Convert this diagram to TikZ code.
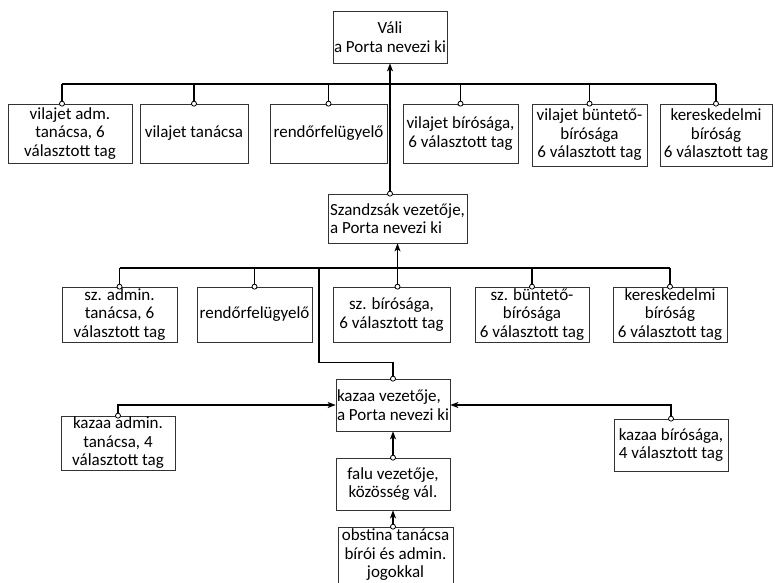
\documentclass[tikz,border=0pt]{standalone}
\usepackage{fontspec}
\setmainfont{Carlito}
\usetikzlibrary{arrows.meta}

\begin{document}
\begin{tikzpicture}[x=1pt, y=-1pt,
	box/.style={draw=black!80, line width=0.7pt, inner sep=0pt, align=center,
		font=\fontsize{17}{18.5}\selectfont},
	wire/.style={line width=1.2pt},
	link/.style={wire, -{Stealth[length=8pt, width=6pt, inset=2pt]}},
	pin/.style={draw=black, line width=0.8pt, fill=white}]
	
	\useasboundingbox (0,0) rectangle (775,582);
	
		% vilajet szint
		\node[box, minimum width=114, minimum height=52] (vali) at (390,37) {Váli\\a Porta nevezi ki};
		\node[box, minimum width=124, minimum height=59] (vadm) at (70,133.5) {vilajet adm.\\tanácsa, 6\\választott tag};
		\node[box, minimum width=108, minimum height=59] (vtan) at (194,133.5) {vilajet tanácsa};
		\node[box, minimum width=117, minimum height=59] (vrend) at (328.5,133.5) {rendőrfelügyelő};
		\node[box, minimum width=115, minimum height=59] (vbir) at (460.5,133.5) {vilajet bírósága,\\6 választott tag};
		\node[box, minimum width=115, minimum height=62] (vbunt) at (589.5,135) {vilajet büntető-\\bírósága\\6 választott tag};
		\node[box, minimum width=112, minimum height=62] (vker) at (716,135) {kereskedelmi\\bíróság\\6 választott tag};
		
		% szandzsák szint
		\node[box, align=left, minimum width=139, minimum height=49] (szan) at (397.5,218.5) {Szandzsák vezetője,\\a Porta nevezi ki};
		\node[box, minimum width=115, minimum height=55] (sadm) at (119.5,314.5) {sz. admin.\\tanácsa, 6\\választott tag};
		\node[box, minimum width=115, minimum height=55] (srend) at (254.5,314.5) {rendőrfelügyelő};
		\node[box, minimum width=117, minimum height=55] (sbir) at (391.5,314.5) {sz. bírósága,\\6 választott tag};
		\node[box, minimum width=114, minimum height=55] (sbunt) at (532,314.5) {sz. büntető-\\bírósága\\6 választott tag};
		\node[box, minimum width=114, minimum height=55] (sker) at (670,314.5) {kereskedelmi\\bíróság\\6 választott tag};
		
		% kazaa szint
		\node[box, align=left, minimum width=114, minimum height=52] (kaza) at (393,405) {kazaa vezetője,\\a Porta nevezi ki};
		\node[box, minimum width=114, minimum height=54] (kadm) at (118,443) {kazaa admin.\\tanácsa, 4\\választott tag};
		\node[box, minimum width=114, minimum height=52] (kbir) at (671,445) {kazaa bírósága,\\4 választott tag};
		\node[box, minimum width=114, minimum height=52] (falu) at (393,484) {falu vezetője,\\közösség vál.};
		\node[box, minimum width=115, minimum height=56] (obst) at (395.5,555) {obstina tanácsa\\bírói és admin.\\jogokkal};
		
		% sínek
		\coordinate (bar1) at (0,84);
		\coordinate (bar2) at (0,268);
		\coordinate (p1) at ([xshift=-8pt]vadm.north);
		\coordinate (p2) at (szan.south |- sbir.north);
		\coordinate (p3) at (vali.south |- szan.north);
		\coordinate (k1) at (319,268);
		
		\draw[wire] (p1 |- bar1) -- (vker.north |- bar1);
		\draw[wire] (sadm.north |- bar2) -- (sker.north |- bar2);
		
		% kapcsolatok
		\foreach \p in {p1, vtan.north, vrend.north, vbir.north, vbunt.north, vker.north}
			\draw[wire] (\p) -- (\p |- bar1);
		\foreach \p in {sadm.north, srend.north, sbunt.north, sker.north}
			\draw[wire] (\p) -- (\p |- bar2);
		\draw[link] (p3) -- (vali.south);
		\draw[link] (p2) -- (szan.south);
		\draw[wire] (kaza.north) -- ++(0,-16) -| (k1);
		\draw[link] (kadm.north) |- (kaza.west);
		\draw[link] (kbir.north) |- (kaza.east);
		\draw[link] (falu.north) -- (kaza.south);
		\draw[link] (falu.south |- obst.north) -- (falu.south);
		
		% csatlakozó körök
		\foreach \p in {p1, vtan.north, vrend.north, vbir.north, vbunt.north, vker.north,
			p3, sadm.north, srend.north, p2, sbunt.north, sker.north,
			kaza.north, kadm.north, kbir.north, falu.north}
			\draw[pin] (\p) circle (2.5);
		\draw[pin] (falu.south |- obst.north) circle (2.5);
		
\end{tikzpicture}
\end{document}
